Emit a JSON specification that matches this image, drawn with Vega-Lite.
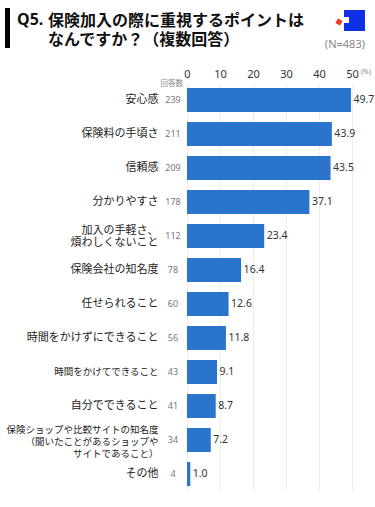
{
"$schema":"https://vega.github.io/schema/vega-lite/v6.json",
"autosize":{"type":"none"},
"width":165,"height":408,
"padding":{"left":187,"top":83,"right":23,"bottom":16},
"background":"white",
"config":{"view":{"stroke":null},"font":"Noto Sans CJK JP"},
"data":{"values":[
{"item":"安心感","n":239,"pct":49.7},
{"item":"保険料の手頃さ","n":211,"pct":43.9},
{"item":"信頼感","n":209,"pct":43.5},
{"item":"分かりやすさ","n":178,"pct":37.1},
{"item":"加入の手軽さ、\n煩わしくないこと","n":112,"pct":23.4},
{"item":"保険会社の知名度","n":78,"pct":16.4},
{"item":"任せられること","n":60,"pct":12.6},
{"item":"時間をかけずにできること","n":56,"pct":11.8},
{"item":"時間をかけてできること","n":43,"pct":9.1},
{"item":"自分でできること","n":41,"pct":8.7},
{"item":"保険ショップや比較サイトの知名度\n（聞いたことがあるショップや\nサイトであること）","n":34,"pct":7.2},
{"item":"その他","n":4,"pct":1.0}
]},
"encoding":{
"y":{"field":"item","type":"nominal","sort":null,"title":null,
"scale":{"paddingInner":0.294,"paddingOuter":0.147},
"axis":{"ticks":false,"domain":false,"labelPadding":29,"labelColor":"#222","labelLimit":200,"labelLineHeight":12,"labelAlign":"right","labelOverlap":false,"labelBound":false,
"labelExpr":"split(datum.value,'\\n')",
"labelOffset":{"expr":"indexof(datum.value,'保険ショップ')==0?-10:indexof(datum.value,'加入の')==0?-5.5:0"},
"labelFontSize":{"expr":"indexof(datum.value,'保険ショップ')==0||datum.value=='時間をかけてできること'?9.5:11"}}}
},
"layer":[
{"mark":{"type":"bar","color":"#2a75cb"},
"encoding":{"x":{"field":"pct","type":"quantitative","title":null,
"scale":{"domain":[0,50],"nice":false},
"axis":{"orient":"top","values":[0,10,20,30,40,50],"ticks":false,"domain":false,"labelPadding":4,"labelFontSize":11,"labelColor":"#333","labelFont":"Noto Sans","grid":true,"gridColor":"#eeeeee","labelFlush":false,"labelOverlap":false,"labelBound":false}}}},
{"mark":{"type":"text","align":"left","baseline":"middle","dx":2.5,"fontSize":10.5,"color":"#333","font":"Noto Sans"},
"encoding":{"x":{"field":"pct","type":"quantitative","title":null,
"axis":{"orient":"top","values":[0,10,20,30,40,50],"ticks":false,"domain":false,"labelPadding":4,"labelFontSize":11,"labelColor":"#333","labelFont":"Noto Sans","grid":true,"gridColor":"#eeeeee","labelFlush":false,"labelOverlap":false,"labelBound":false}},"text":{"field":"pct","type":"quantitative","format":".1f"}}},
{"mark":{"type":"text","align":"center","baseline":"middle","xOffset":-14,"fontSize":9,"color":"#777","font":"Noto Sans"},
"encoding":{"x":{"datum":0,"type":"quantitative","title":null,
"axis":{"orient":"top","values":[0,10,20,30,40,50],"ticks":false,"domain":false,"labelPadding":4,"labelFontSize":11,"labelColor":"#333","labelFont":"Noto Sans","grid":true,"gridColor":"#eeeeee","labelFlush":false,"labelOverlap":false,"labelBound":false}},"text":{"field":"n"}}},
{"data":{"values":[{"t":"Q5."}]},"mark":{"type":"text","align":"left","baseline":"middle","fontSize":16,"fontWeight":"bold","color":"#111","font":"Noto Sans"},
"encoding":{"y":{"value":-63},"x":{"value":-170},"text":{"field":"t"}}},
{"data":{"values":[{"t":"保険加入の際に重視するポイントは"}]},"mark":{"type":"text","align":"left","baseline":"middle","fontSize":16,"fontWeight":"bold","color":"#111"},
"encoding":{"y":{"value":-62},"x":{"value":-139},"text":{"field":"t"}}},
{"data":{"values":[{"t":"なんですか？（複数回答）"}]},"mark":{"type":"text","align":"left","baseline":"middle","fontSize":16,"fontWeight":"bold","color":"#111"},
"encoding":{"y":{"value":-43},"x":{"value":-139},"text":{"field":"t"}}},
{"data":{"values":[{"t":"(N=483)"}]},"mark":{"type":"text","align":"right","baseline":"middle","fontSize":11,"color":"#888","font":"Noto Sans"},
"encoding":{"y":{"value":-38},"x":{"value":178},"text":{"field":"t"}}},
{"data":{"values":[{"t":"(%)"}]},"mark":{"type":"text","align":"left","baseline":"middle","fontSize":7,"color":"#888","font":"Noto Sans"},
"encoding":{"y":{"value":-11},"x":{"value":174},"text":{"field":"t"}}},
{"data":{"values":[{"t":"回答数"}]},"mark":{"type":"text","align":"right","baseline":"middle","fontSize":7.5,"color":"#888"},
"encoding":{"y":{"value":1},"x":{"value":-4},"text":{"field":"t"}}},
{"data":{"values":[{"s":"bar"}]},"mark":{"type":"rect","color":"#000"},
"encoding":{"x":{"value":-182},"x2":{"value":-177},"y":{"value":-75},"y2":{"value":-35}}},
{"data":{"values":[{"s":"logo"}]},"mark":{"type":"rect","color":"#1030e8"},
"encoding":{"x":{"value":157},"x2":{"value":178},"y":{"value":-73},"y2":{"value":-52}}},
{"data":{"values":[{"s":"notch"}]},"mark":{"type":"rect","color":"#fff"},
"encoding":{"x":{"value":157},"x2":{"value":162},"y":{"value":-66},"y2":{"value":-60}}},
{"data":{"values":[{"s":"dot"}]},"mark":{"type":"point","shape":"square","angle":30,"filled":true,"color":"#f03a20","opacity":1,"size":28},
"encoding":{"x":{"value":152},"y":{"value":-61}}}
]
}
